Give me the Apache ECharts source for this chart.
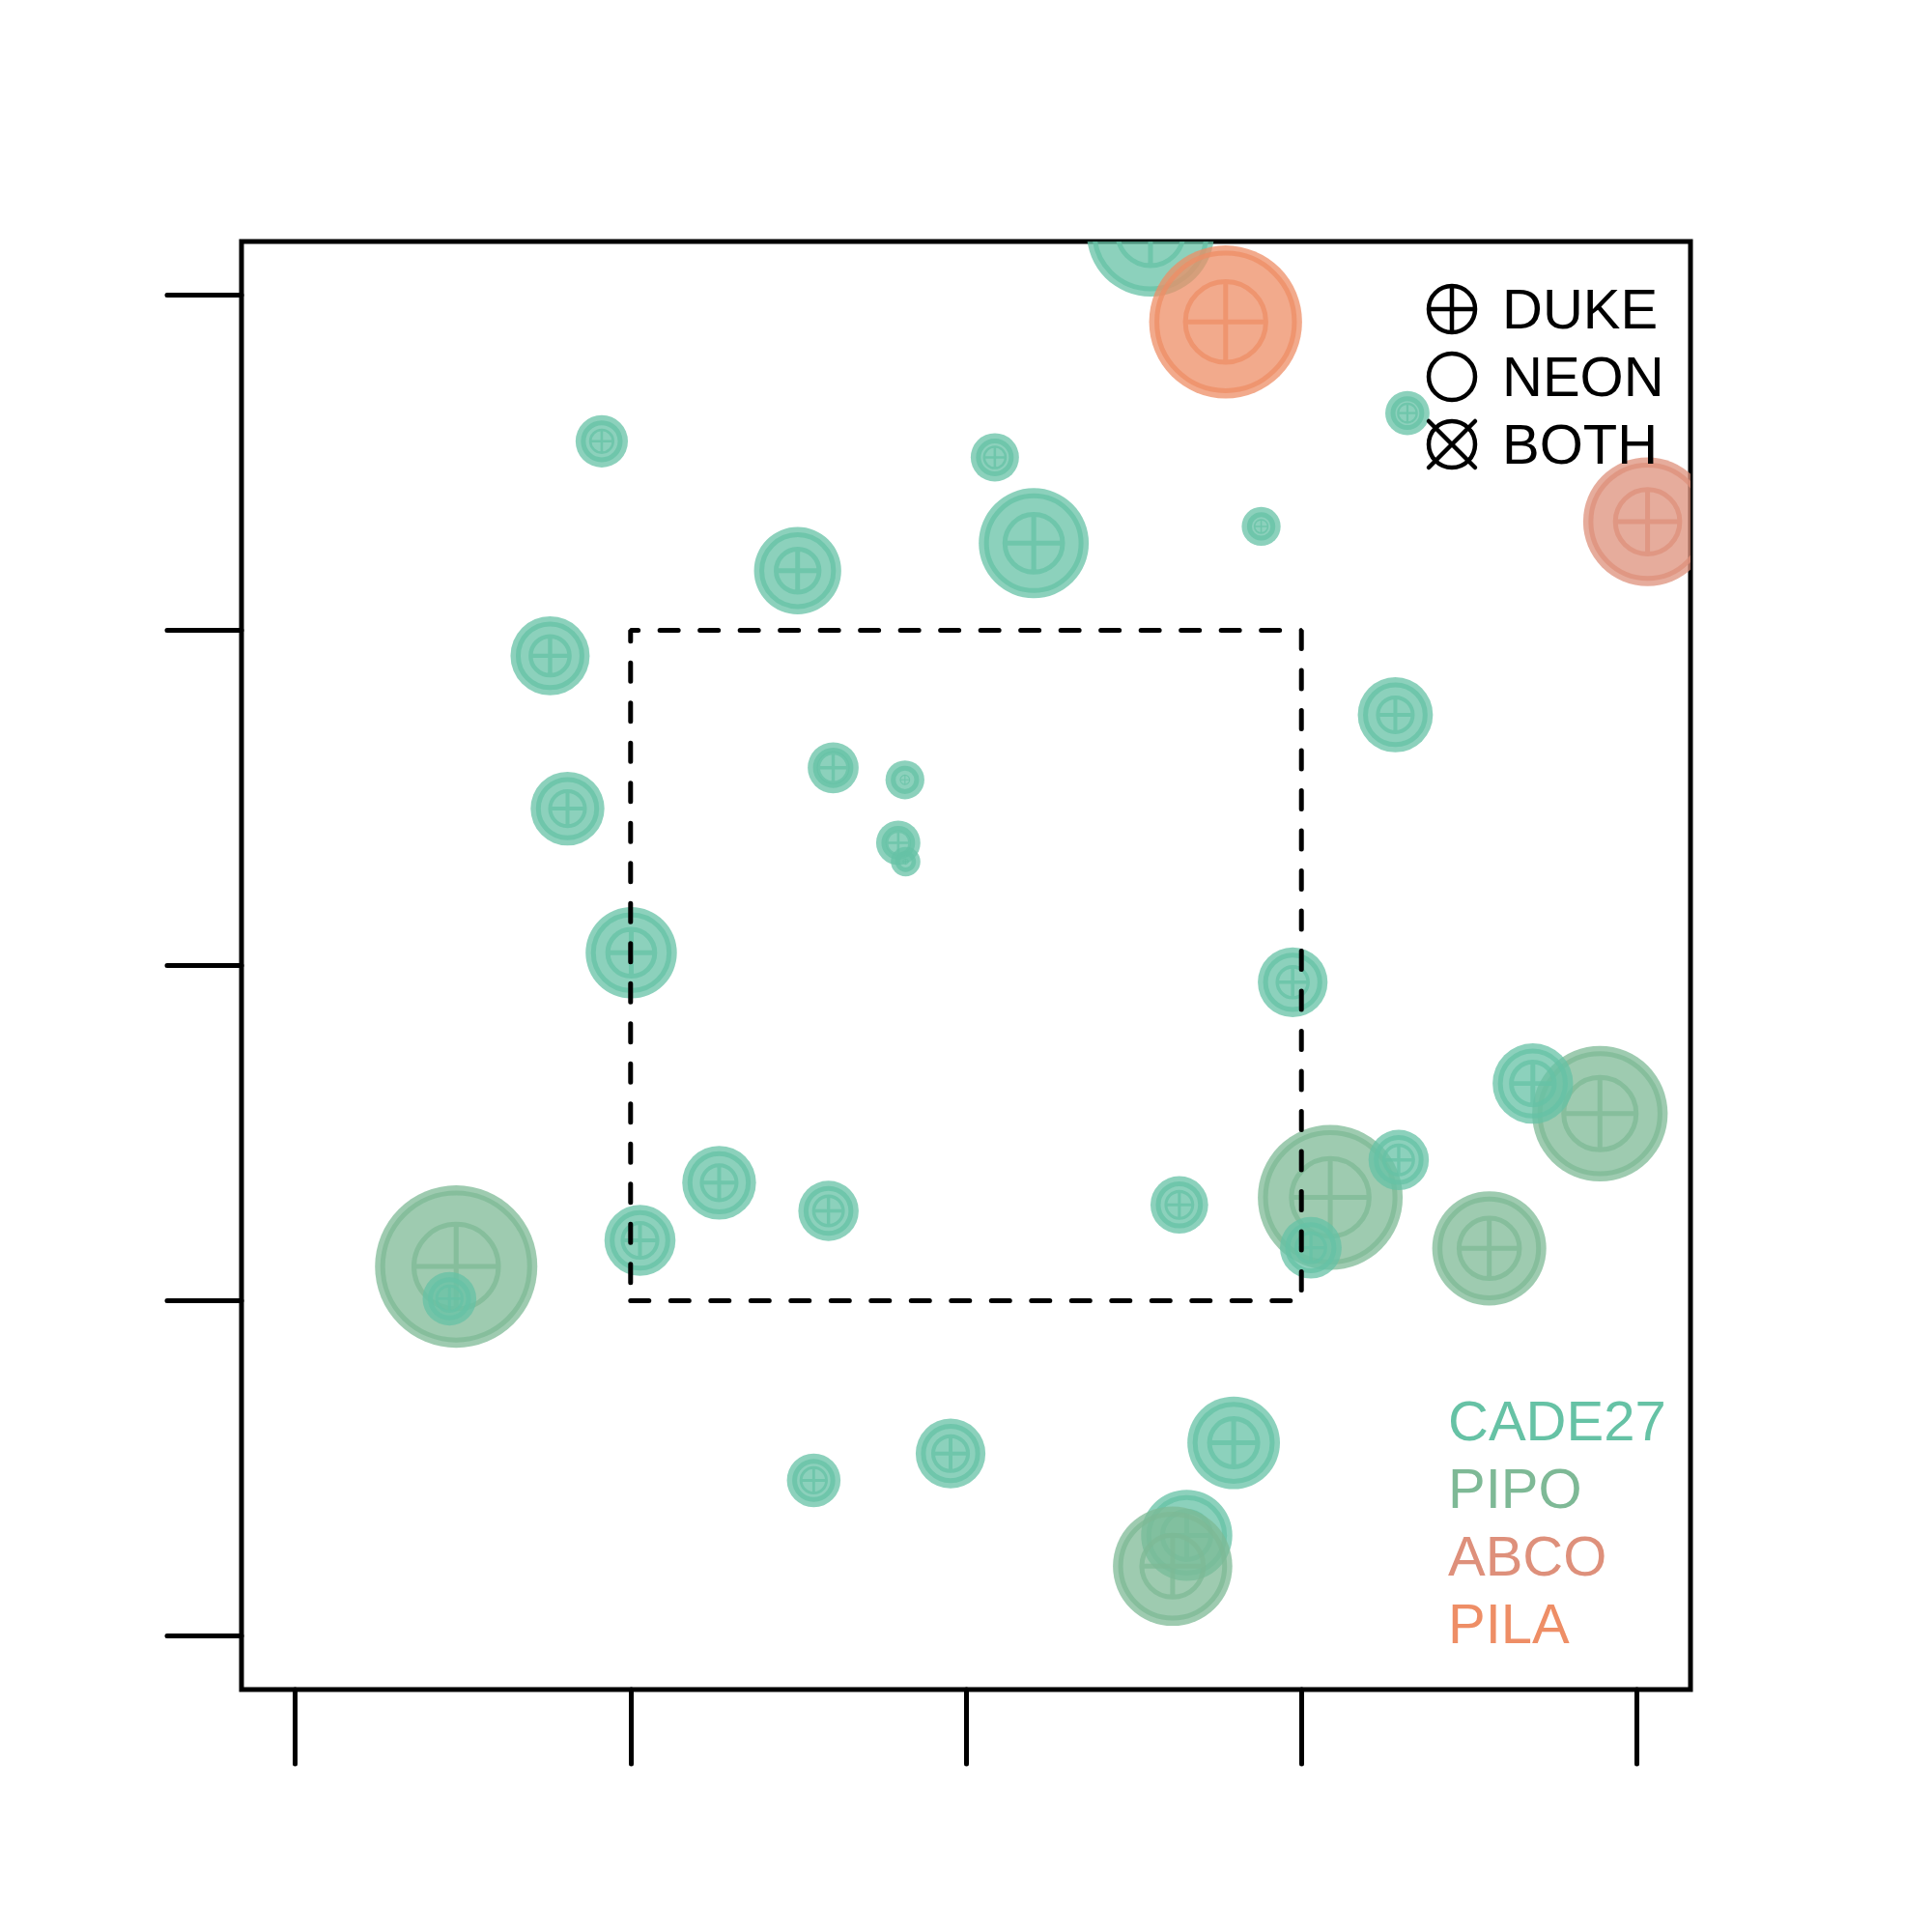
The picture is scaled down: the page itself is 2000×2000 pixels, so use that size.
<!DOCTYPE html>
<html>
<head>
<meta charset="utf-8">
<script src="https://cdn.jsdelivr.net/npm/echarts@6/dist/echarts.min.js"></script>
<style>html,body{margin:0;padding:0;background:#fff}#c{width:2000px;height:2000px}</style>
</head>
<body>
<div id="c"></div>
<script>
// ---- data ----
const speciesNames = ['CADE27', 'PIPO', 'ABCO', 'PILA'];
const speciesColors = ['#66C2A5', '#7EB996', '#DE907B', '#EE8E66'];
const sourceNames = ['DUKE', 'NEON', 'BOTH'];
const tickValues = [-10, -5, 0, 5, 10];
const boxX = [-5, 5, 5, -5, -5];
const boxY = [-5, -5, 5, 5, -5];

// tree positions (m), crown radius, stem radius, species index
const treeX = [2.75, 3.87, 10.16, -5.43, 0.43, 6.58, 4.40, 1.01, -2.51, -6.20, 6.40, -1.98, -0.91, -5.94, -1.01, -0.90, -4.99, 4.87, 9.45, 8.45, 5.43, 6.45, 5.14, -3.68, -2.05, 3.18, -4.86, 7.80, -7.60, -7.70, 3.99, -0.23, -2.27, 3.29, 3.08];
const treeY = [10.93, 9.60, 6.62, 7.82, 7.58, 8.24, 6.55, 6.30, 5.89, 4.62, 3.74, 2.95, 2.77, 2.34, 1.83, 1.55, 0.19, -0.25, -2.21, -1.76, -3.46, -2.90, -4.21, -3.24, -3.66, -3.57, -4.10, -4.22, -4.49, -4.97, -7.12, -7.28, -7.68, -8.50, -8.96];
const crownR = [0.95, 1.14, 0.96, 0.39, 0.36, 0.33, 0.29, 0.82, 0.65, 0.59, 0.56, 0.38, 0.29, 0.55, 0.33, 0.22, 0.68, 0.52, 1.01, 0.60, 1.08, 0.45, 0.46, 0.55, 0.45, 0.43, 0.53, 0.85, 1.21, 0.40, 0.69, 0.52, 0.40, 0.68, 0.89];
const stemR = [0.49, 0.60, 0.48, 0.17, 0.16, 0.14, 0.10, 0.43, 0.32, 0.29, 0.26, 0.22, 0.07, 0.26, 0.17, 0.04, 0.35, 0.23, 0.54, 0.32, 0.58, 0.22, 0.22, 0.26, 0.22, 0.20, 0.26, 0.45, 0.63, 0.19, 0.36, 0.26, 0.19, 0.36, 0.46];
const treeSpecies = [0, 3, 2, 0, 0, 0, 0, 0, 0, 0, 0, 0, 0, 0, 0, 0, 0, 0, 1, 0, 1, 0, 0, 0, 0, 0, 0, 1, 1, 0, 0, 0, 0, 0, 1];

// ---- build ----
function rgba(hex, a) {
  const n = parseInt(hex.slice(1), 16);
  return 'rgba(' + ((n >> 16) & 255) + ',' + ((n >> 8) & 255) + ',' + (n & 255) + ',' + a + ')';
}
const treeData = treeX.map((x, i) => [x, treeY[i], crownR[i], stemR[i], treeSpecies[i]]);
const boxData = boxX.map((x, i) => [x, boxY[i]]);

const chart = echarts.init(document.getElementById('c'), null, {renderer: 'canvas'});
const FONT = '"Liberation Sans", Arial, Helvetica, sans-serif';

function axisCfg(pos) {
  return {
    type: 'value', min: -10.8, max: 10.8, position: pos,
    axisLine: {show: false, onZero: false},
    axisLabel: {show: false},
    splitLine: {show: false},
    axisTick: {show: true, customValues: tickValues, length: 77, inside: false,
      lineStyle: {color: '#000', width: 5, cap: 'round'}}
  };
}

const legendGraphics = [];
const lx = 1503, ly0 = 320, dy = 70, lr = 24;
sourceNames.forEach((name, i) => {
  const cy = ly0 + i * dy;
  legendGraphics.push({type: 'circle', shape: {cx: lx, cy: cy, r: lr}, style: {fill: 'none', stroke: '#000', lineWidth: 4.5}, z: 100});
  if (i === 0) {
    legendGraphics.push({type: 'line', shape: {x1: lx - lr, y1: cy, x2: lx + lr, y2: cy}, style: {stroke: '#000', lineWidth: 4.5}, z: 100});
    legendGraphics.push({type: 'line', shape: {x1: lx, y1: cy - lr, x2: lx, y2: cy + lr}, style: {stroke: '#000', lineWidth: 4.5}, z: 100});
  } else if (i === 2) {
    legendGraphics.push({type: 'line', shape: {x1: lx - lr, y1: cy - lr, x2: lx + lr, y2: cy + lr}, style: {stroke: '#000', lineWidth: 4.5, lineCap: 'round'}, z: 100});
    legendGraphics.push({type: 'line', shape: {x1: lx + lr, y1: cy - lr, x2: lx - lr, y2: cy + lr}, style: {stroke: '#000', lineWidth: 4.5, lineCap: 'round'}, z: 100});
  }
  legendGraphics.push({type: 'text', x: 1555, y: cy + 4, style: {text: name, fill: '#000', font: '58px ' + FONT, verticalAlign: 'middle', align: 'left'}, z: 100});
});
speciesNames.forEach((name, i) => {
  legendGraphics.push({type: 'text', x: 1499, y: 1475 + i * 70, style: {text: name, fill: speciesColors[i], font: '58px ' + FONT, verticalAlign: 'middle', align: 'left'}, z: 100});
});

chart.setOption({
  animation: false,
  backgroundColor: '#fff',
  grid: {left: 250, right: 250, top: 250, bottom: 251, show: true, borderColor: '#000', borderWidth: 5, backgroundColor: 'transparent'},
  xAxis: axisCfg('bottom'),
  yAxis: axisCfg('left'),
  graphic: legendGraphics,
  series: [
    {
      type: 'custom',
      clip: true,
      data: treeData,
      z: 2,
      renderItem: function (params, api) {
        const c = api.coord([api.value(0), api.value(1)]);
        const R = api.size([api.value(2), 0])[0];
        const r = api.size([api.value(3), 0])[0];
        const col = speciesColors[api.value(4)];
        const fill = rgba(col, 0.75);
        const ringW = Math.min(5, R * 0.3);
        const ringR = Math.max(R - 8, R * 0.55);
        const lw = Math.max(1, Math.min(5, r * 0.22));
        const cx = c[0], cy = c[1];
        const p = 'M' + (cx + r) + ' ' + cy +
          ' A' + r + ' ' + r + ' 0 1 0 ' + (cx - r) + ' ' + cy +
          ' A' + r + ' ' + r + ' 0 1 0 ' + (cx + r) + ' ' + cy +
          ' M' + (cx - r) + ' ' + cy + ' L' + (cx + r) + ' ' + cy +
          ' M' + cx + ' ' + (cy - r) + ' L' + cx + ' ' + (cy + r);
        return {
          type: 'group',
          children: [
            {type: 'circle', shape: {cx: cx, cy: cy, r: R}, style: {fill: fill}},
            {type: 'circle', shape: {cx: cx, cy: cy, r: ringR}, style: {fill: 'none', stroke: fill, lineWidth: ringW}},
            {type: 'path', shape: {pathData: p}, style: {fill: 'none', stroke: fill, lineWidth: lw}}
          ]
        };
      }
    },
    {
      type: 'line',
      data: boxData,
      showSymbol: false,
      symbol: 'none',
      silent: true,
      z: 3,
      lineStyle: {color: '#000', width: 5, type: [19, 22.5], cap: 'round'}
    }
  ]
});
</script>
</body>
</html>
